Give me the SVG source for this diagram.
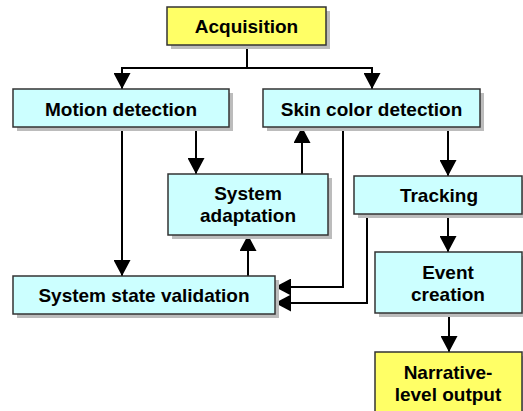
<svg xmlns="http://www.w3.org/2000/svg" width="523" height="411" viewBox="0 0 523 411">
  <defs>
    <marker id="arrow" viewBox="0 0 16 17" refX="16" refY="8.5" markerWidth="16" markerHeight="17" markerUnits="userSpaceOnUse" orient="auto">
      <path d="M0,0 L16,8.5 L0,17 Z" fill="#000"/>
    </marker>
  </defs>
  <style>
    .shadow { fill: #bcbcbc; }
    .box { stroke: #333; stroke-width: 1.5; }
    .cyan { fill: #ccffff; }
    .yellow { fill: #ffff66; }
    .label { font-family: "Liberation Sans", Arial, sans-serif; font-weight: bold; font-size: 19px; fill: #000; text-anchor: middle; }
    .wire { fill: none; stroke: #000; stroke-width: 2; }
    .arr { marker-end: url(#arrow); }
  </style>
  <rect width="523" height="411" fill="#fff"/>

  <g id="connectors">
    <polyline class="wire" points="247,45 247,68"/>
    <polyline class="wire" points="122,68 372,68"/>
    <polyline class="wire arr" points="122,67 122,89"/>
    <polyline class="wire arr" points="372,67 372,89"/>
    <polyline class="wire arr" points="122,128 122,276"/>
    <polyline class="wire arr" points="196,128 196,174"/>
    <polyline class="wire arr" points="302,174 302,127"/>
    <polyline class="wire arr" points="248,276 248,235"/>
    <polyline class="wire arr" points="343,127 343,287 275,287"/>
    <polyline class="wire arr" points="448,127 448,176"/>
    <polyline class="wire arr" points="367,214 367,303 275,303"/>
    <polyline class="wire arr" points="448,214 448,252"/>
    <polyline class="wire arr" points="449,314 449,352"/>
  </g>

  <g id="acquisition">
    <rect class="shadow" x="171" y="11" width="159" height="38"/>
    <rect class="box yellow" x="167" y="7" width="159" height="38"/>
    <text class="label" x="246.5" y="33">Acquisition</text>
  </g>

  <g id="motion-detection">
    <rect class="shadow" x="17" y="93" width="216" height="38"/>
    <rect class="box cyan" x="13" y="89" width="216" height="38"/>
    <text class="label" x="121" y="116">Motion detection</text>
  </g>

  <g id="skin-color-detection">
    <rect class="shadow" x="267" y="93" width="217" height="38"/>
    <rect class="box cyan" x="263" y="89" width="217" height="38"/>
    <text class="label" x="371.5" y="116">Skin color detection</text>
  </g>

  <g id="system-adaptation">
    <rect class="shadow" x="172" y="178" width="160" height="61"/>
    <rect class="box cyan" x="168" y="174" width="160" height="61"/>
    <text class="label" x="248" y="200">System</text>
    <text class="label" x="248" y="222">adaptation</text>
  </g>

  <g id="tracking">
    <rect class="shadow" x="358" y="180" width="168" height="38"/>
    <rect class="box cyan" x="354" y="176" width="168" height="38"/>
    <text class="label" x="439" y="202">Tracking</text>
  </g>

  <g id="system-state-validation">
    <rect class="shadow" x="17" y="280" width="262" height="38"/>
    <rect class="box cyan" x="13" y="276" width="262" height="38"/>
    <text class="label" x="144" y="302">System state validation</text>
  </g>

  <g id="event-creation">
    <rect class="shadow" x="379" y="256" width="147" height="61"/>
    <rect class="box cyan" x="375" y="252" width="147" height="61"/>
    <text class="label" x="448" y="279">Event</text>
    <text class="label" x="448" y="301">creation</text>
  </g>

  <g id="narrative-output">
    <rect class="shadow" x="379" y="356" width="147" height="70"/>
    <rect class="box yellow" x="375" y="352" width="147" height="70"/>
    <text class="label" x="448" y="379">Narrative-</text>
    <text class="label" x="448" y="401">level output</text>
  </g>
</svg>
